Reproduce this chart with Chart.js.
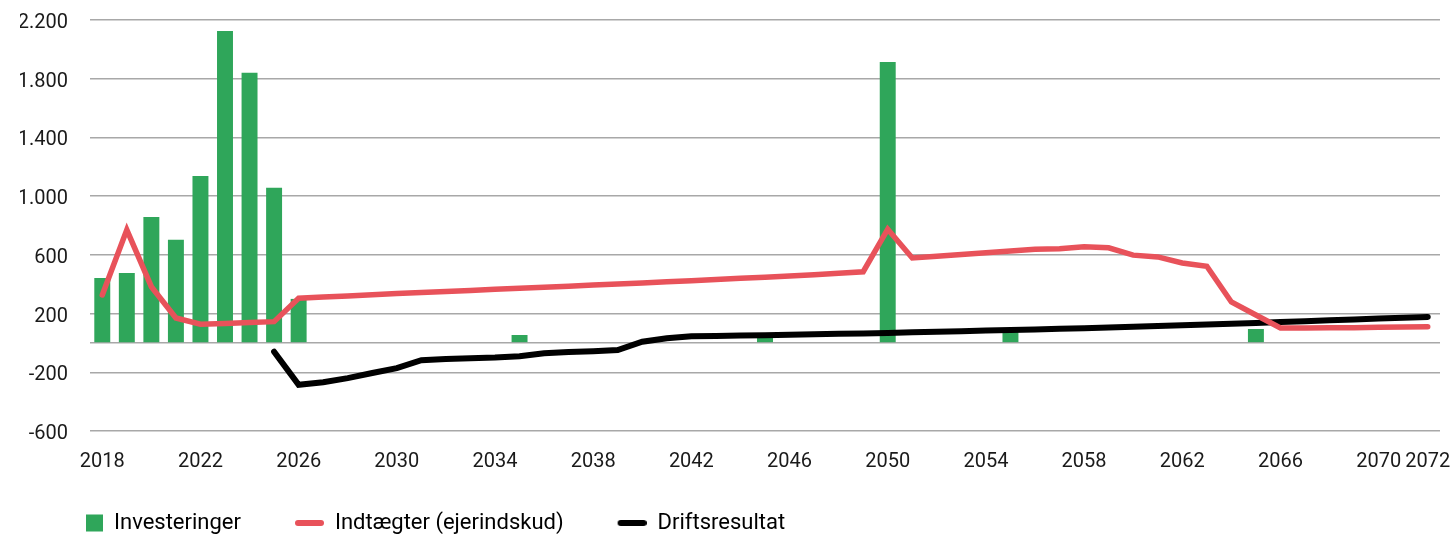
<!DOCTYPE html>
<html lang="da">
<head>
    <meta charset="UTF-8">
    <title>Investeringer, indtægter og driftsresultat</title>
    <script src="https://cdn.jsdelivr.net/npm/chart.js"></script>
    <style>
        body {
            margin: 0;
            background-color: #ffffff;
        }
        #wrap {
            width: 1452px;
            height: 534px;
        }
    </style>
</head>
<body>
    <div id="wrap">
        <canvas id="mainChart" width="1452" height="534"></canvas>
    </div>
    <script>
        const years = [
            '2018', '2019', '2020', '2021', '2022', '2023', '2024', '2025', '2026', '2027',
            '2028', '2029', '2030', '2031', '2032', '2033', '2034', '2035', '2036', '2037',
            '2038', '2039', '2040', '2041', '2042', '2043', '2044', '2045', '2046', '2047',
            '2048', '2049', '2050', '2051', '2052', '2053', '2054', '2055', '2056', '2057',
            '2058', '2059', '2060', '2061', '2062', '2063', '2064', '2065', '2066', '2067',
            '2068', '2069', '2070', '2071', '2072'
        ];
        const shownYears = ['2018', '2022', '2026', '2030', '2034', '2038', '2042', '2046',
            '2050', '2054', '2058', '2062', '2066', '2070', '2072'];

        const investeringer = [
            443, 477, 858, 703, 1138, 2125, 1840, 1057, 300, 0,
            0, 0, 0, 0, 0, 0, 0, 54, 0, 0,
            0, 0, 0, 0, 0, 0, 0, 35, 0, 0,
            0, 0, 1914, 0, 0, 0, 0, 85, 0, 0,
            0, 0, 0, 0, 0, 0, 0, 95, 0, 0,
            0, 0, 0, 0, 0
        ];
        const indtaegter = [
            327, 770, 383, 170, 128, 133, 140, 145, 305, 313,
            320, 328, 336, 343, 350, 357, 365, 372, 379, 386,
            394, 401, 409, 416, 424, 432, 440, 448, 456, 465,
            474, 485, 775, 579, 591, 603, 615, 627, 638, 642,
            655, 648, 598, 586, 545, 522, 279, 190, 102, 102,
            103, 104, 106, 108, 110
        ];
        const driftsresultat = [
            null, null, null, null, null, null, null, -60, -285, -268,
            -240, -205, -172, -118, -110, -105, -100, -90, -70, -62,
            -56, -48, 8, 32, 46, 48, 50, 53, 56, 59,
            62, 65, 68, 72, 76, 80, 84, 88, 92, 96,
            100, 105, 110, 115, 120, 125, 130, 136, 142, 148,
            154, 160, 166, 172, 177
        ];
        const yTicks = [-600, -200, 0, 200, 600, 1000, 1400, 1800, 2200];

        const green = '#2fa65a';
        const red = '#e8525a';
        const black = '#000000';

        // dansk talformat: 2.200
        function formatNumber(v) {
            const s = Math.abs(v).toString().replace(/\B(?=(\d{3})+(?!\d))/g, '.');
            return (v < 0 ? '-' : '') + s;
        }

        // små lærreder til forklaringens symboler
        function makeSwatch(kind, color) {
            const c = document.createElement('canvas');
            c.width = 65;
            c.height = 18;
            const ctx = c.getContext('2d');
            if (kind === 'box') {
                ctx.fillStyle = color;
                ctx.fillRect(48, 0.5, 17, 17);
            } else {
                ctx.strokeStyle = color;
                ctx.lineWidth = 6;
                ctx.lineCap = 'round';
                ctx.beginPath();
                ctx.moveTo(39, 9);
                ctx.lineTo(62, 9);
                ctx.stroke();
            }
            return c;
        }

        const swatches = [
            makeSwatch('box', green),
            makeSwatch('line', red),
            makeSwatch('line', black)
        ];

        Chart.defaults.font.family = 'Roboto';
        Chart.defaults.color = '#1a1a1a';

        const ctx = document.getElementById('mainChart').getContext('2d');
        new Chart(ctx, {
            type: 'bar',
            data: {
                labels: years,
                datasets: [
                    {
                        type: 'bar',
                        label: 'Investeringer',
                        data: investeringer,
                        backgroundColor: green,
                        categoryPercentage: 1,
                        barPercentage: 0.65,
                        order: 3
                    },
                    {
                        type: 'line',
                        label: 'Indtægter (ejerindskud)',
                        data: indtaegter,
                        borderColor: red,
                        borderWidth: 5.5,
                        pointRadius: 0,
                        borderCapStyle: 'round',
                        tension: 0,
                        fill: false,
                        order: 1
                    },
                    {
                        type: 'line',
                        label: 'Driftsresultat',
                        data: driftsresultat,
                        borderColor: black,
                        borderWidth: 6,
                        pointRadius: 0,
                        borderCapStyle: 'round',
                        tension: 0,
                        fill: false,
                        order: 2
                    }
                ]
            },
            options: {
                responsive: false,
                animation: false,
                layout: {
                    padding: { left: 20, right: 12, top: 20, bottom: 0 }
                },
                plugins: {
                    tooltip: { enabled: false },
                    legend: {
                        position: 'bottom',
                        align: 'start',
                        maxHeight: 40,
                        labels: {
                            usePointStyle: true,
                            pointStyleWidth: 65,
                            padding: 18,
                            color: '#1a1a1a',
                            font: { size: 22 },
                            generateLabels: (chart) => chart.data.datasets.map((ds, i) => ({
                                text: ds.label,
                                pointStyle: swatches[i],
                                datasetIndex: i,
                                hidden: false,
                                lineWidth: 0
                            }))
                        }
                    }
                },
                scales: {
                    x: {
                        offset: true,
                        grid: {
                            color: 'rgba(0,0,0,0)',
                            drawTicks: true,
                            tickLength: 19
                        },
                        border: { display: false },
                        ticks: {
                            autoSkip: false,
                            maxRotation: 0,
                            minRotation: 0,
                            padding: 0,
                            color: '#1a1a1a',
                            font: { size: 20 },
                            callback: function (value) {
                                const y = this.getLabelForValue(value);
                                return shownYears.includes(y) ? y : '';
                            }
                        },
                        afterFit: (scale) => { scale.height = 63; }
                    },
                    y: {
                        min: -600,
                        max: 2200,
                        afterBuildTicks: (scale) => {
                            scale.ticks = yTicks.map(v => ({ value: v }));
                        },
                        afterFit: (scale) => { scale.width = 70; },
                        grid: {
                            color: '#a8a8a8',
                            lineWidth: 1.5,
                            drawTicks: true,
                            tickLength: 22,
                            tickColor: 'rgba(0,0,0,0)'
                        },
                        border: { display: false },
                        ticks: {
                            padding: 0,
                            labelOffset: 3,
                            color: '#1a1a1a',
                            font: { size: 20 },
                            callback: (v) => (v === 0 ? '' : formatNumber(v))
                        }
                    }
                }
            }
        });
    </script>
</body>
</html>
